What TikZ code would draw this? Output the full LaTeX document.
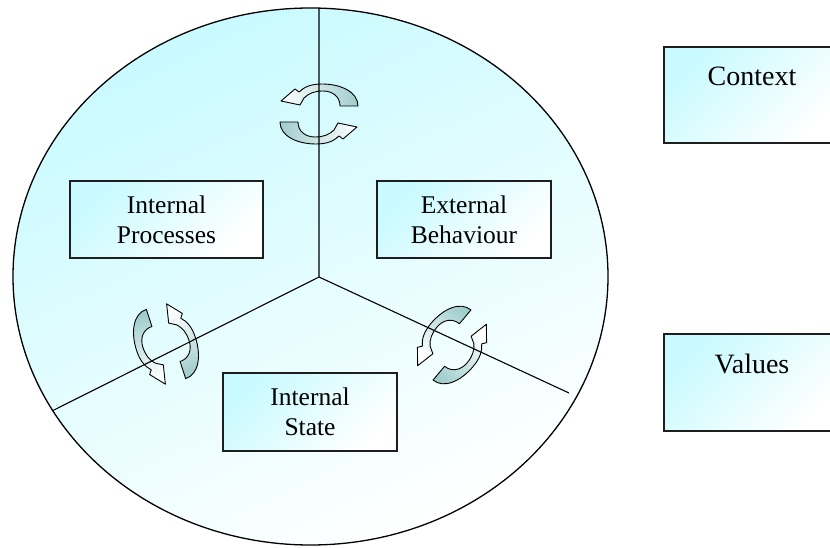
\documentclass[tikz,border=0pt]{standalone}
\usepackage{fontspec}
\setmainfont{Liberation Serif}
\usetikzlibrary{shapes.geometric,calc}

\definecolor{skycyan}{RGB}{200,250,255}
\definecolor{paleteal}{RGB}{160,205,205}
\definecolor{edgegray}{RGB}{30,30,30}

\tikzset{
  bodyshape/.style={draw=black, line width=1.3pt, ellipse, inner sep=0pt,
    top color=skycyan, middle color=skycyan!45!white, bottom color=white, shading angle=25},
  divider/.style={draw=black, line width=1.1pt},
  facetbox/.style={draw=edgegray, line width=1.5pt, rectangle, inner sep=0pt,
    top color=skycyan, middle color=white, bottom color=white, shading angle=45,
    align=center, font=\fontsize{25.5}{30}\selectfont},
  sidebox/.style={draw=edgegray, line width=1.5pt, rectangle, inner sep=0pt,
    top color=skycyan, middle color=white, bottom color=white, shading angle=45,
    minimum width=176pt},
  sidetext/.style={font=\fontsize{28}{33}\selectfont, inner sep=0pt},
  % curved band arrow: shaded from the teal tail (right) to the white head (left)
  bandfill/.style={draw=black, line width=0.9pt, line join=round,
    left color=white, right color=paleteal},
  bandoutline/.style={insert path={
      (39,8) .. controls (39,22) and (22,30) .. (3,30)
             .. controls (-8,30) and (-15,27) .. (-20,22)
      -- (-24,25) -- (-38,13) -- (-19,9) -- (-15,16)
      .. controls (-10,21) and (-4,23) .. (4,23)
      .. controls (14,23) and (21,17) .. (21,8) -- cycle}}
}

\begin{document}
\begin{tikzpicture}[x=1pt, y=1pt]
  \useasboundingbox (0,0) rectangle (830,547);
  \clip (0,0) rectangle (830,547);

  % the body, split into three sectors
  \node[bodyshape, minimum width=595pt, minimum height=537pt] (body) at (310.5,270.5) {};

  % exchange cycles between the sectors: two bands chasing each other
  \begin{scope}[shift={(319,433)}]
    \path[bandfill, shading angle=90, bandoutline];
    \path[bandfill, shading angle=270, rotate=180, bandoutline];
  \end{scope}
  \begin{scope}[shift={(166,203)}, rotate=108]
    \path[bandfill, shading angle=198, bandoutline];
    \path[bandfill, shading angle=18, rotate=180, bandoutline];
  \end{scope}
  \begin{scope}[shift={(452,202)}, rotate=50]
    \path[bandfill, shading angle=140, bandoutline];
    \path[bandfill, shading angle=320, rotate=180, bandoutline];
  \end{scope}

  \coordinate (hub) at (319,270);
  \coordinate (topend) at (319,539);
  \coordinate (leftend) at (52,136);
  \coordinate (rightend) at (569,154);
  \draw[divider] (topend) -- (hub) -- (leftend);
  \draw[divider] (hub) -- (rightend);

  % sector labels
  \node[facetbox, minimum width=193pt, minimum height=77pt] (procs) at (166.5,327.5) {Internal\\Processes};
  \node[facetbox, minimum width=174pt, minimum height=77pt] (behav) at (464,327.5) {External\\Behaviour};
  \node[facetbox, minimum width=174pt, minimum height=78pt] (state) at (310,135) {Internal\\State};

  % surroundings
  \node[sidebox, minimum height=96pt] (context) at (752,452) {};
  \node[sidetext] (contextlabel) at ($(context.north)+(0,-30)$) {Context};
  \node[sidebox, minimum height=97pt] (values) at (752,164.5) {};
  \node[sidetext] (valueslabel) at ($(values.north)+(0,-31)$) {Values};
\end{tikzpicture}
\end{document}
